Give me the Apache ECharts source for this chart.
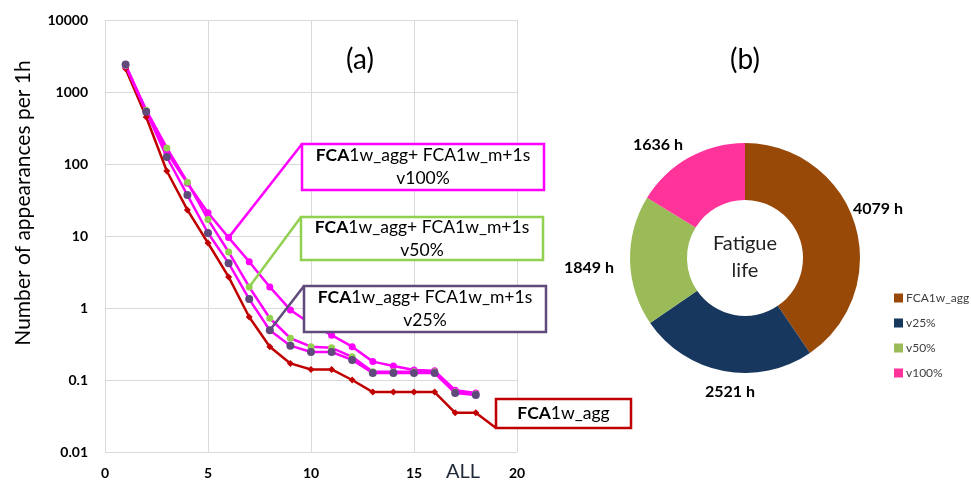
<!DOCTYPE html>
<html>
<head>
<meta charset="utf-8">
<script src="https://cdn.jsdelivr.net/npm/echarts@6/dist/echarts.min.js"></script>
<style>
  html, body { margin: 0; padding: 0; background: #fff; }
  #chart { width: 971px; height: 484px; }
</style>
</head>
<body>
<div id="chart"></div>
<script>
// Load levels (x) and number of appearances per 1 h for each load case
const levels = [1, 2, 3, 4, 5, 6, 7, 8, 9, 10, 11, 12, 13, 14, 15, 16, 17, 18];
const aggValues  = [2100, 450, 80, 23, 8, 2.7, 0.75, 0.29, 0.17, 0.14, 0.14, 0.10, 0.068, 0.068, 0.068, 0.068, 0.035, 0.035];
const v100Values = [2300, 540, 147, 54, 21, 9.5, 4.4, 1.96, 0.94, 0.60, 0.42, 0.29, 0.18, 0.156, 0.138, 0.134, 0.072, 0.066];
const v50Values  = [2350, 560, 167, 56, 17, 6.0, 1.96, 0.72, 0.38, 0.29, 0.28, 0.21, 0.13, 0.13, 0.13, 0.13, 0.068, 0.064];
const v25Values  = [2400, 530, 125, 37, 11, 4.2, 1.33, 0.49, 0.30, 0.245, 0.245, 0.19, 0.125, 0.125, 0.125, 0.125, 0.066, 0.062];

// Fatigue life per load case (hours)
const lifeNames = ['FCA1w_agg', 'v25%', 'v50%', 'v100%'];
const lifeHours = [4079, 2521, 1849, 1636];

const FONT = 'Lato, "Open Sans", sans-serif';
const pair = (vals) => levels.map((x, i) => [x, vals[i]]);

const chart = echarts.init(document.getElementById('chart'), null, { renderer: 'canvas' });

const lineSeries = (name, vals, lineColor, markColor, symbol, size) => ({
  name: name,
  type: 'line',
  data: pair(vals),
  symbol: symbol,
  symbolSize: size,
  lineStyle: { color: lineColor, width: 2.5 },
  itemStyle: { color: markColor, borderWidth: 0 },
  emphasis: { disabled: true },
  animation: false,
  z: 3
});

// Label placement around the donut
const pieLabelPos = [[878, 209], [730, 392], [589, 268], [658, 145]];

chart.setOption({
  animation: false,
  backgroundColor: '#fff',
  grid: { left: 105, top: 20, width: 412, height: 432, containLabel: false },
  xAxis: {
    type: 'value', min: 0, max: 20, interval: 5,
    axisLine: { show: false }, axisTick: { show: false },
    splitLine: { show: true, lineStyle: { color: '#d9d9d9', width: 1 } },
    axisLabel: { margin: 14, fontFamily: FONT, fontWeight: 'bold', fontSize: 14, color: '#000' }
  },
  yAxis: {
    type: 'log', logBase: 10, min: 0.01, max: 10000,
    axisLine: { show: false }, axisTick: { show: false },
    splitLine: { show: true, lineStyle: { color: '#d9d9d9', width: 1 } },
    axisLabel: {
      margin: 17, fontFamily: FONT, fontWeight: 'bold', fontSize: 14, color: '#000',
      formatter: (v) => String(+v.toPrecision(6))
    }
  },
  legend: {
    orient: 'vertical', left: 889, top: 286,
    data: lifeNames,
    icon: 'rect', itemWidth: 9, itemHeight: 9, itemGap: 11,
    textStyle: { fontFamily: FONT, fontSize: 12, color: '#404040', lineHeight: 14, padding: [0, 0, 0, -2] },
    selectedMode: false
  },
  series: [
    lineSeries('FCA1w_agg line', aggValues, '#c00000', '#c00000', 'diamond', 7),
    lineSeries('v100 line', v100Values, '#ff00ff', '#ff00ff', 'circle', 7),
    lineSeries('v50 line', v50Values, '#ff00ff', '#92d050', 'circle', 7),
    lineSeries('v25 line', v25Values, '#ff00ff', '#604a7b', 'circle', 8),
    {
      name: 'Fatigue life',
      type: 'pie',
      center: [745, 258],
      radius: [58, 115],
      startAngle: 90,
      clockwise: true,
      animation: false,
      color: ['#984807', '#17375e', '#9bbb59', '#ff3399'],
      itemStyle: { borderWidth: 0 },
      emphasis: { disabled: true },
      data: lifeNames.map((n, i) => ({ name: n, value: lifeHours[i] })),
      label: {
        show: true, position: 'outside',
        formatter: (p) => p.value + ' h',
        fontFamily: FONT, fontWeight: 'bold', fontSize: 16, color: '#000'
      },
      labelLine: { show: false },
      labelLayout: (p) => ({
        x: pieLabelPos[p.dataIndex][0],
        y: pieLabelPos[p.dataIndex][1],
        align: 'center', verticalAlign: 'middle'
      })
    }
  ]
});

// Callout boxes with leader lines pointing at specific data points
const px = (x, y) => chart.convertToPixel({ gridIndex: 0 }, [x, y]);

function callout(color, box, lines, target, anchor) {
  const [l, t, r, b] = box;
  const p = px(target[0], target[1]);
  const a = anchor === 'bl' ? [l, b] : [l, t];
  return [
    {
      type: 'polyline', z: 10,
      shape: { points: [p, a] },
      style: { stroke: color, lineWidth: 2.5, fill: null }
    },
    {
      type: 'rect', z: 10,
      shape: { x: l, y: t, width: r - l, height: b - t },
      style: { stroke: color, lineWidth: 2.5, fill: '#fff' }
    },
    {
      type: 'text', z: 11,
      x: (l + r) / 2, y: (t + b) / 2,
      style: {
        text: lines,
        align: 'center', verticalAlign: 'middle',
        fontFamily: FONT, fontSize: 17.5, lineHeight: 23, fill: '#000',
        rich: { b: { fontFamily: FONT, fontSize: 17.5, fontWeight: 'bold', fill: '#000', lineHeight: 23 } }
      }
    }
  ];
}

const graphics = [].concat(
  callout('#ff00ff', [302, 144, 544, 190], '{b|FCA}1w_agg+ FCA1w_m+1s\nv100%', [6, v100Values[5]], 'tl'),
  callout('#92d050', [301, 217, 543, 260], '{b|FCA}1w_agg+ FCA1w_m+1s\nv50%', [7, v50Values[6]], 'tl'),
  callout('#604a7b', [304, 286, 546, 332], '{b|FCA}1w_agg+ FCA1w_m+1s\nv25%', [8, v25Values[7]], 'tl'),
  callout('#c00000', [496, 399, 631, 428], '{b|FCA}1w_agg', [18, aggValues[17]], 'bl'),
  [
    {
      type: 'text', x: 360, y: 60,
      style: { text: '(a)', align: 'center', verticalAlign: 'middle', fontFamily: FONT, fontSize: 28, fill: '#000' }
    },
    {
      type: 'text', x: 745, y: 60,
      style: { text: '(b)', align: 'center', verticalAlign: 'middle', fontFamily: FONT, fontSize: 28, fill: '#000' }
    },
    {
      type: 'text', x: 745, y: 257,
      style: { text: 'Fatigue\nlife', align: 'center', verticalAlign: 'middle', fontFamily: FONT, fontSize: 20, lineHeight: 27, fill: '#222' }
    },
    {
      type: 'text', x: 23, y: 203, rotation: Math.PI / 2,
      style: { text: 'Number of appearances per 1h', align: 'center', verticalAlign: 'middle', fontFamily: FONT, fontSize: 21, fill: '#000' }
    },
    {
      type: 'text', x: 463, y: 472,
      style: { text: 'ALL', align: 'center', verticalAlign: 'middle', fontFamily: FONT, fontSize: 20, fill: '#1f2a3a' }
    }
  ]
);

chart.setOption({ graphic: graphics });
</script>
</body>
</html>
